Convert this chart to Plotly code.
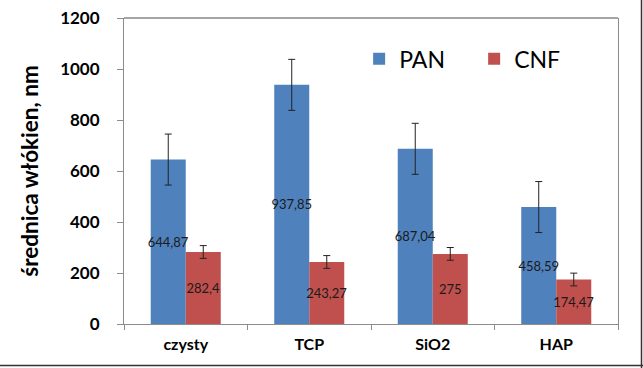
import plotly.graph_objects as go

categories = ["czysty", "TCP", "SiO2", "HAP"]
pan_values = [644.87, 937.85, 687.04, 458.59]
cnf_values = [282.4, 243.27, 275, 174.47]
pan_errors = [100, 100, 100, 100]
cnf_errors = [25, 25, 25, 25]
y_ticks = [0, 200, 400, 600, 800, 1000, 1200]


def fmt(v):
    return f"{v:g}".replace(".", ",")


FONT = "Lato, Carlito, Calibri, 'Open Sans', sans-serif"

fig = go.Figure()
for name, vals, errs, color in [
    ("PAN", pan_values, pan_errors, "#4F81BD"),
    ("CNF", cnf_values, cnf_errors, "#C0504D"),
]:
    fig.add_trace(go.Bar(
        name=name, x=categories, y=vals,
        marker=dict(color=color, line=dict(width=0)),
        error_y=dict(type="data", array=errs, visible=True, color="#222222",
                     thickness=1, width=3.5),
        text=[fmt(v) for v in vals],
        textposition="inside", insidetextanchor="middle", textangle=0,
        constraintext="none", cliponaxis=False,
        textfont=dict(family=FONT, size=13, color="#1a1a1a"),
        hoverinfo="skip",
    ))

PW, PH = 494, 306
fig.update_layout(
    width=643, height=368,
    margin=dict(l=124, r=25, t=18, b=44, autoexpand=False),
    paper_bgcolor="white", plot_bgcolor="white",
    barmode="group", bargap=0.433, bargroupgap=0,
    legend=dict(orientation="h", x=0.476, y=0.937, xanchor="left", yanchor="top",
                font=dict(family=FONT, size=23, color="#000000"),
                entrywidth=70, entrywidthmode="pixels",
                bgcolor="rgba(0,0,0,0)"),
    font=dict(family=FONT, color="#000000"),
)
fig.update_xaxes(
    type="category", showline=True, linecolor="#8c8c8c", linewidth=1,
    ticks="outside", tickson="boundaries", ticklen=5, tickcolor="#8c8c8c",
    ticklabelstandoff=6,
    tickfont=dict(family=FONT, size=16, color="#000000", weight="bold"),
    showgrid=False, zeroline=False,
)
fig.update_yaxes(
    range=[0, 1200], tickvals=y_ticks, ticktext=[str(t) for t in y_ticks],
    showline=True, linecolor="#8c8c8c", linewidth=1, mirror=True,
    ticks="outside", ticklen=6, tickcolor="#8c8c8c",
    ticklabelstandoff=14,
    tickfont=dict(family=FONT, size=17, color="#000000", weight="bold"),
    showgrid=False, zeroline=False,
    title=dict(text="średnica włókien, nm", standoff=15,
               font=dict(family=FONT, size=22.5, color="#000000", weight="bold")),
)
# plot area top border (darker) and outer chart frame
fig.add_shape(type="line", xref="paper", yref="paper", x0=0, x1=1, y0=1, y1=1,
              line=dict(color="#4d4d4d", width=1.2))
fig.add_shape(type="line", xref="paper", yref="paper",
              x0=1 + 23.5 / PW, x1=1 + 23.5 / PW, y0=-1, y1=1.2,
              line=dict(color="#333333", width=1.5))
fig.add_shape(type="line", xref="paper", yref="paper",
              x0=-0.3, x1=1.1, y0=-41.5 / PH, y1=-41.5 / PH,
              line=dict(color="#333333", width=1.5))

fig.write_html("out.html", config={"displayModeBar": False},
               post_script="document.body.style.margin='0';")
